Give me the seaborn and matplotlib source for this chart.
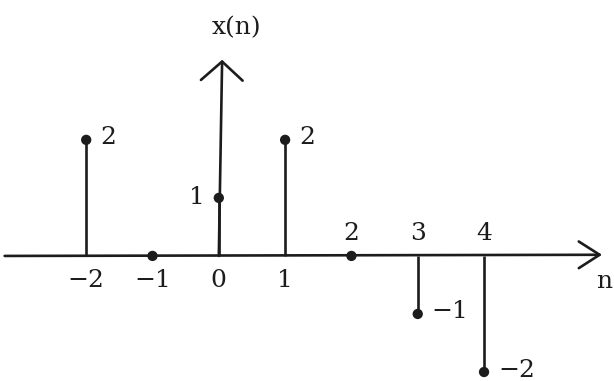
import matplotlib
matplotlib.use("Agg")
import matplotlib.pyplot as plt
import seaborn as sns
import pandas as pd

# Discrete-time sequence x(n)
n = [-2, -1, 0, 1, 2, 3, 4]
x = [2, 0, 1, 2, 0, -1, -2]
tick_labels = ["\u22122", "\u22121", "0", "1", "2", "3", "4"]
value_labels = ["2", "", "1", "2", "", "\u22121", "\u22122"]

sns.set_theme(style="white")
plt.rcParams["font.family"] = ["DejaVu Serif"]

ink = "#1c1c1c"
fig = plt.figure(figsize=(6.14, 3.81), dpi=100)
ax = fig.add_axes([0, 0, 1, 1])
ax.set_xlim(-3.30, 5.96)
ax.set_ylim(-2.155, 4.41)
ax.axis("off")

df = pd.DataFrame({"n": n, "x": x})

# horizontal n-axis with open arrow head
ax.annotate("", xy=(5.78, 0.02), xytext=(-3.23, 0),
            arrowprops=dict(arrowstyle="->,head_width=0.32,head_length=0.5", lw=1.9,
                            color=ink, mutation_scale=30, shrinkA=0, shrinkB=0))
# vertical x(n)-axis through n = 0
ax.annotate("", xy=(0.05, 3.38), xytext=(0, 0),
            arrowprops=dict(arrowstyle="->,head_width=0.5,head_length=0.45", lw=1.9,
                            color=ink, mutation_scale=30, shrinkA=0, shrinkB=0))

# stems and sample dots
ax.vlines(df["n"], 0, df["x"], color=ink, lw=1.9)
sns.scatterplot(data=df, x="n", y="x", ax=ax, color=ink, s=55,
                edgecolor="none", zorder=3, legend=False)

fs = 18
# sample index labels along the axis
for ni, lab in zip(n, tick_labels):
    above = ni >= 2
    ax.annotate(lab, xy=(ni, 0), xytext=(0, 22 if above else -25),
                textcoords="offset pixels", ha="center", va="center",
                fontsize=fs, color=ink)

# sample value labels beside each dot
for ni, xi, lab in zip(n, x, value_labels):
    if not lab:
        continue
    if ni == 0:
        ax.annotate(lab, xy=(ni, xi), xytext=(-22, 0), textcoords="offset pixels",
                    ha="center", va="center", fontsize=fs, color=ink)
    else:
        ax.annotate(lab, xy=(ni, xi), xytext=(14, 2), textcoords="offset pixels",
                    ha="left", va="center", fontsize=fs, color=ink)

# axis names
ax.annotate("x(n)", xy=(0, 3.38), xytext=(18, 32), textcoords="offset pixels",
            ha="center", va="center", fontsize=fs, color=ink)
ax.annotate("n", xy=(5.78, 0), xytext=(2, -26), textcoords="offset pixels",
            ha="center", va="center", fontsize=fs, color=ink)

fig.savefig("out.png", dpi=100, facecolor="white")
